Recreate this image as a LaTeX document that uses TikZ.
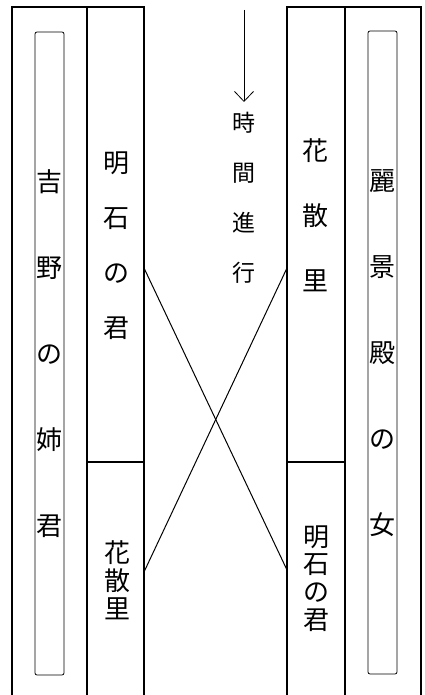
\documentclass[tikz,border=0pt]{standalone}
\usepackage{fontspec}
\newfontfamily\cjk{Noto Sans CJK JP}
\usetikzlibrary{arrows.meta}
\begin{document}
\begin{tikzpicture}[x=1pt,y=-1pt,
  frame/.style={line width=1.2pt},
  innerbox/.style={line width=0.8pt, rounded corners=2pt},
  crossline/.style={line width=1pt},
  vtext/.style={align=center, inner sep=0pt},
  timearrow/.style={line width=0.8pt, -{Straight Barb[length=10pt,width=19pt,line width=0.8pt]}}
]
\useasboundingbox (0,0) rectangle (424,695);
% left block
\draw[frame] (12,695) -- (12,7) -- (144,7) -- (144,695);
\draw[frame] (87,7) -- (87,695);
\draw[frame] (87,462) -- (144,462);
\draw[innerbox] (35,32) rectangle (64,675);
% right block
\draw[frame] (287,695) -- (287,7) -- (421,7) -- (421,695);
\draw[frame] (345,7) -- (345,695);
\draw[frame] (287,462) -- (345,462);
\draw[innerbox] (368,31) rectangle (397,674);
% texts
\node[vtext, font=\cjk\fontsize{26pt}{86pt}\selectfont] (yoshino) at (49.5,354) {吉\\野\\の\\姉\\君};
\node[vtext, font=\cjk\fontsize{26pt}{86pt}\selectfont] (reikeiden) at (382.5,353) {麗\\景\\殿\\の\\女};
\node[vtext, font=\cjk\fontsize{26pt}{55pt}\selectfont] (akashiA) at (116,245.5) {明\\石\\の\\君};
\node[vtext, font=\cjk\fontsize{26pt}{65pt}\selectfont] (hanaA) at (315,215) {花\\散\\里};
\node[vtext, font=\cjk\fontsize{26pt}{28pt}\selectfont] (hanaB) at (117,580) {花\\散\\里};
\node[vtext, font=\cjk\fontsize{26pt}{27.7pt}\selectfont] (akashiB) at (316,578.5) {明\\石\\の\\君};
\node[vtext, font=\cjk\fontsize{23pt}{50pt}\selectfont] (jikan) at (244,197.5) {時\\間\\進\\行};
% arrow
\coordinate (arrowtop) at (244,10);
\coordinate (arrowend) at (244,102);
\draw[timearrow] (arrowtop) -- (arrowend);
% crossing connectors
\coordinate (akashiAe) at (144,268);
\coordinate (akashiBw) at (287,570);
\coordinate (hanaAw) at (287,268);
\coordinate (hanaBe) at (144,572);
\draw[crossline] (akashiAe) -- (akashiBw);
\draw[crossline] (hanaAw) -- (hanaBe);
\end{tikzpicture}
\end{document}
